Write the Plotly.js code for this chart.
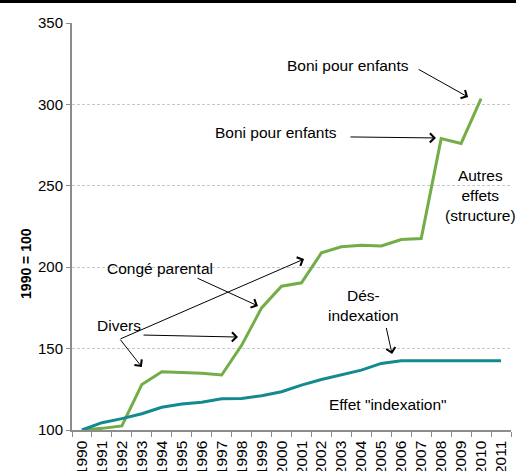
<!DOCTYPE html>
<html>
<head>
<meta charset="utf-8">
<script src="https://cdn.plot.ly/plotly-3.0.1.min.js"></script>
<style>
html,body{margin:0;padding:0;background:#fff;}
#chart{width:516px;height:471px;}
</style>
</head>
<body>
<div id="chart"></div>
<script>
const years = ['1990','1991','1992','1993','1994','1995','1996','1997','1998','1999','2000','2001','2002','2003','2004','2005','2006','2007','2008','2009','2010','2011'];
const totalEffect = [100,101,102.5,128,135.8,135.4,134.8,133.8,152,175,188.3,190.4,208.8,212.5,213.5,213,217,217.6,279,276,303.5];
const indexationEffect = [100,104.5,107,110,114,116,117,119.2,119.4,121,123.5,127.6,131,133.7,136.8,140.9,142.5,142.5,142.5,142.5,142.5,142.5];
const yTicks = [100,150,200,250,300,350];

const textFont = {family:'Liberation Sans, Arial, sans-serif', size:15.5, color:'#000'};

function label(txt, x, y) {
  return {text:txt, x:x, y:y, xref:'x', yref:'y', showarrow:false, font:textFont, align:'center'};
}
function arrow(x, y, ax, ay) {
  return {text:' ', x:x, y:y, xref:'x', yref:'y', ax:ax, ay:ay, showarrow:true,
          arrowhead:4, arrowsize:1.8, arrowwidth:1, arrowcolor:'#000',
          font:{size:1}, borderpad:0};
}

const traces = [
  {x: years.slice(0, totalEffect.length), y: totalEffect, type:'scatter', mode:'lines',
   line:{color:'#72ad47', width:3}, hoverinfo:'skip'},
  {x: years, y: indexationEffect, type:'scatter', mode:'lines',
   line:{color:'#128a90', width:3}, hoverinfo:'skip'}
];

const layout = {
  width:516, height:471,
  margin:{l:72, r:5, t:23, b:41},
  paper_bgcolor:'#fff', plot_bgcolor:'#fff',
  showlegend:false,
  font:{family:'Liberation Sans, Arial, sans-serif', color:'#000'},
  xaxis:{type:'category', range:[-0.5, 21.5], tickangle:-90, tickson:'boundaries',
         ticks:'outside', ticklen:5, tickcolor:'#8c8c8c', tickwidth:1,
         ticklabelstandoff:3,
         showline:true, linecolor:'#8c8c8c', linewidth:1.5, showgrid:false,
         tickfont:{size:15.5, color:'#000'}, fixedrange:true},
  yaxis:{range:[100,350], tickvals:yTicks, ticktext:yTicks.map(String),
         ticks:'outside', ticklen:4, tickcolor:'#8c8c8c',
         showline:true, linecolor:'#8c8c8c', linewidth:2,
         showgrid:true, gridcolor:'#c8c8c8', gridwidth:1, griddash:'3px,2px',
         zeroline:false, tickfont:{size:15, color:'#000'}, fixedrange:true},
  shapes:[
    {type:'rect', xref:'paper', yref:'paper', x0:-0.3, x1:1.1, y0:1.049, y1:1.08,
     fillcolor:'#000', line:{width:0}}
  ],
  annotations:[
    {text:'<b>1990 = 100</b>', xref:'paper', yref:'paper', x:-0.128, y:0.41, textangle:-90,
     showarrow:false, font:{family:'Liberation Sans, Arial, sans-serif', size:14, color:'#000'}},
    label('Boni pour enfants', 13.33, 324.2),
    label('Boni pour enfants', 9.72, 283),
    label('Autres<br>effets<br>(structure)', 19.95, 244.3),
    label('Congé parental', 3.91, 199.5),
    label('Divers', 1.85, 163.9),
    label('Dés-<br>indexation', 14.09, 176.2),
    label('Effet "indexation"', 15.34, 115.4),
    arrow(19.35, 304.5, -50, -28),
    arrow(17.74, 279.4, -86, -1),
    arrow(8.82, 176.2, -61, -28),
    arrow(11.13, 205, -184, 80),
    arrow(3.0, 138.7, -22, -28),
    arrow(7.82, 157.1, -95, -2),
    arrow(15.54, 146.7, -6, -27)
  ]
};

Plotly.newPlot('chart', traces, layout, {staticPlot:true, displayModeBar:false});
</script>
</body>
</html>
